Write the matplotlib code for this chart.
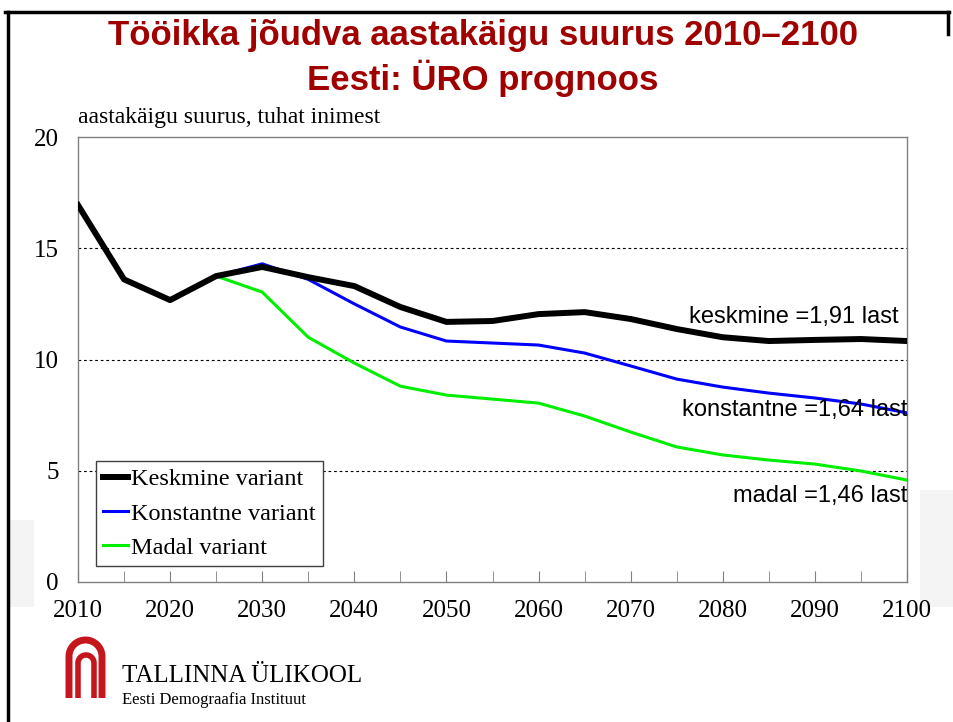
import matplotlib
matplotlib.use("Agg")
import matplotlib.pyplot as plt
import numpy as np
from matplotlib.lines import Line2D
from matplotlib.patches import Rectangle

years = [2010, 2015, 2020, 2025, 2030, 2035, 2040, 2045, 2050, 2055,
         2060, 2065, 2070, 2075, 2080, 2085, 2090, 2095, 2100]
keskmine = [16.94, 13.6, 12.67, 13.75, 14.16, 13.7, 13.3, 12.36, 11.69, 11.73,
            12.04, 12.13, 11.82, 11.37, 11.0, 10.83, 10.88, 10.92, 10.83]
proj_years = years[3:]
konstantne = [13.75, 14.3, 13.6, 12.5, 11.46, 10.83, 10.74, 10.65, 10.29,
              9.71, 9.12, 8.76, 8.49, 8.27, 8.0, 7.6]
madal = [13.75, 13.03, 11.0, 9.84, 8.8, 8.4, 8.22, 8.04, 7.46,
         6.74, 6.07, 5.71, 5.48, 5.30, 4.99, 4.58]

legend_labels = ["Keskmine variant", "Konstantne variant", "Madal variant"]
end_labels = ["keskmine =1,91 last", "konstantne =1,64 last", "madal =1,46 last"]
end_label_x = [2099.1, 2100, 2100]
end_label_y = [11.9, 7.73, 3.87]
title_lines = ["Tööikka jõudva aastakäigu suurus 2010–2100", "Eesti: ÜRO prognoos"]
y_title = "aastakäigu suurus, tuhat inimest"
xticks = list(range(2010, 2101, 10))
yticks = [0, 5, 10, 15, 20]

W, H = 954, 722
fig = plt.figure(figsize=(W / 100, H / 100), dpi=100)
fig.patch.set_facecolor("white")

serif = ["Liberation Serif", "DejaVu Serif"]
sans = ["Liberation Sans", "DejaVu Sans"]


def fx(px):
    return px / W


def fy(py):
    return 1 - py / H


# faint slide background strips
fig.patches.append(Rectangle((fx(10), fy(607)), fx(24), (607 - 520) / H,
                             transform=fig.transFigure, facecolor="#f4f4f4",
                             edgecolor="none", zorder=-5))
fig.patches.append(Rectangle((fx(920), fy(607)), fx(34), (607 - 490) / H,
                             transform=fig.transFigure, facecolor="#f4f4f4",
                             edgecolor="none", zorder=-5))

# slide border
fig.add_artist(Line2D([fx(5), fx(949)], [fy(12), fy(12)], transform=fig.transFigure,
                      color="black", lw=2.5))
fig.add_artist(Line2D([fx(8), fx(8)], [fy(12), fy(722)], transform=fig.transFigure,
                      color="black", lw=2.5))
fig.add_artist(Line2D([fx(948), fx(948)], [fy(12), fy(34)], transform=fig.transFigure,
                      color="black", lw=2.5))

ax = fig.add_axes([fx(78), fy(582), fx(907) - fx(78), (582 - 137) / H])
ax.set_facecolor("white")
ax.set_xlim(2010, 2100)
ax.set_ylim(0, 20)

for y in [5, 10, 15]:
    ax.axhline(y, color="black", lw=0.8, ls=(0, (2.5, 2.5)), zorder=1)

ax.plot(years, keskmine, color="black", lw=4.3, solid_joinstyle="round",
        label=legend_labels[0], zorder=5)
ax.plot(proj_years, konstantne, color="#0000ff", lw=2.2, label=legend_labels[1], zorder=4)
ax.plot(proj_years, madal, color="#00ee00", lw=2.2, label=legend_labels[2], zorder=3)

for txt, xv, yv in zip(end_labels, end_label_x, end_label_y):
    ax.text(xv, yv, txt, ha="right", va="center", fontsize=17, family=sans,
            color="black", zorder=6)

for s in ax.spines.values():
    s.set_color("#808080")
    s.set_linewidth(1.0)

ax.set_xticks(xticks)
ax.set_xticks(list(range(2015, 2100, 10)), minor=True)
ax.set_yticks(yticks)
ax.tick_params(axis="x", which="both", direction="in", length=8, color="#808080",
               top=False, pad=13)
ax.tick_params(axis="y", which="both", length=0, pad=14)
for lab in ax.get_xticklabels() + ax.get_yticklabels():
    lab.set_family(serif)
    lab.set_fontsize(18)

leg = ax.legend(loc="lower left", bbox_to_anchor=(0.0217, 0.036), borderaxespad=0,
                fancybox=False, framealpha=1, edgecolor="#404040",
                prop={"family": serif, "size": 17.5}, handlelength=1.0,
                handletextpad=0.15, labelspacing=0.5, borderpad=0.3)
leg.get_frame().set_linewidth(1.0)
leg.set_zorder(10)

fig.text(fx(78), fy(118), y_title, ha="left", va="center", fontsize=17, family=serif)

fig.text(fx(483), fy(36), title_lines[0], ha="center", va="center", fontsize=25,
         family=sans, weight="bold", color="#a00000")
fig.text(fx(483), fy(78), title_lines[1], ha="center", va="center", fontsize=25,
         family=sans, weight="bold", color="#a00000")

# logo (decorative arches)
red = "#c4161c"
for (x0, x1, ytop, ybot, lw) in [(69, 102, 640, 698, 5), (78, 94, 655, 698, 4)]:
    xm = (x0 + x1) / 2
    t = np.linspace(np.pi, 0, 40)
    r = (x1 - x0) / 2
    arc_x = xm + r * np.cos(t)
    arc_y = (ytop + r) - r * np.sin(t)
    xs = [x0] + list(arc_x) + [x1]
    ys = [ybot] + list(arc_y) + [ybot]
    fig.add_artist(Line2D([fx(v) for v in xs], [fy(v) for v in ys],
                          transform=fig.transFigure, color=red, lw=lw,
                          solid_capstyle="butt"))

fig.text(fx(122), fy(676), "TALLINNA ÜLIKOOL", ha="left", va="center", fontsize=18,
         family=serif)
fig.text(fx(122), fy(700), "Eesti Demograafia Instituut", ha="left", va="center",
         fontsize=12, family=serif)

fig.savefig("out.png", dpi=100)
